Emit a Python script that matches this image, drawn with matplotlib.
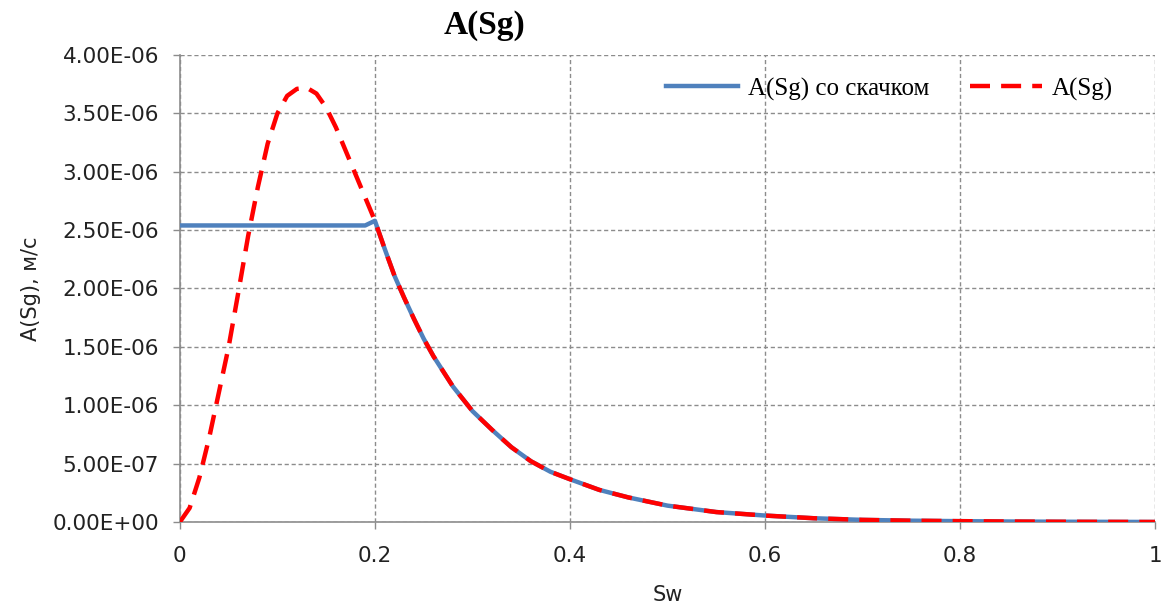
"""A(Sg) curve with and without the saturation jump."""

import matplotlib
matplotlib.use("Agg")
import matplotlib.pyplot as plt
from matplotlib.ticker import FuncFormatter

# A(Sg), in units of 1e-6 m/s
sw = [0.0, 0.01, 0.015, 0.02, 0.03, 0.04, 0.05, 0.06, 0.07, 0.08, 0.09, 0.10,
      0.11, 0.12, 0.13, 0.14, 0.15, 0.16, 0.17, 0.18, 0.19, 0.20, 0.21, 0.22,
      0.23, 0.24, 0.25, 0.26, 0.28, 0.30, 0.32, 0.34, 0.36, 0.38, 0.40, 0.43,
      0.46, 0.50, 0.55, 0.60, 0.65, 0.70, 0.75, 0.80, 0.85, 0.90, 0.95, 1.0]
a_sg = [0.0, 0.12, 0.25, 0.38, 0.72, 1.11, 1.50, 1.97, 2.45, 2.87, 3.24, 3.50,
        3.65, 3.71, 3.72, 3.67, 3.55, 3.38, 3.18, 2.98, 2.78, 2.58, 2.34, 2.11,
        1.92, 1.74, 1.57, 1.42, 1.16, 0.95, 0.79, 0.64, 0.52, 0.43, 0.366, 0.275,
        0.21, 0.14, 0.085, 0.055, 0.032, 0.018, 0.011, 0.007, 0.004, 0.002, 0.001, 0.0]

# curve with the jump: flat up to the front, then the same as A(Sg)
sw_jump = [0.0, 0.10, 0.19] + sw[21:]
a_jump = [2.54, 2.54, 2.54] + a_sg[21:]

scale = 1e-6
a_sg = [v * scale for v in a_sg]
a_jump = [v * scale for v in a_jump]

x_ticks = [0, 0.2, 0.4, 0.6, 0.8, 1]
x_tick_labels = ["0", "0.2", "0.4", "0.6", "0.8", "1"]
y_ticks = [i * 0.5e-6 for i in range(9)]

fig = plt.figure(figsize=(11.68, 6.10), dpi=100)
ax = fig.add_axes([0.154, 0.1443, 0.835, 0.7655])

ax.plot(sw_jump, a_jump, color="#4F81BD", linewidth=3.2,
        solid_joinstyle="round", label="A(Sg) со скачком", zorder=3)
ax.plot(sw, a_sg, color="#FF0000", linewidth=3.2, dashes=(4.5, 2.5),
        label="A(Sg)", zorder=4)

ax.set_xlim(0, 1)
ax.set_ylim(0, 4e-6)
ax.set_xticks(x_ticks)
ax.set_xticklabels(x_tick_labels)
ax.set_yticks(y_ticks)
ax.yaxis.set_major_formatter(FuncFormatter(lambda v, p: f"{v:.2E}"))

ax.grid(True, color="#8c8c8c", linestyle=(0, (3, 2)), linewidth=1.0)
ax.set_axisbelow(True)
for side in ["top", "right"]:
    ax.spines[side].set_visible(False)
for side in ["left", "bottom"]:
    ax.spines[side].set_color("#8c8c8c")
    ax.spines[side].set_linewidth(1.2)
ax.tick_params(axis="both", color="#8c8c8c", length=5, width=1,
               labelsize=15.5, labelcolor="#222222")
ax.tick_params(axis="y", pad=10)
ax.tick_params(axis="x", pad=12)
for lbl in ax.get_xticklabels() + ax.get_yticklabels():
    lbl.set_family("DejaVu Sans")

ax.set_ylabel("A(Sg), м/с", fontsize=15, family="DejaVu Sans", labelpad=8,
              color="#222222")
ax.set_xlabel("Sw", fontsize=15, family="DejaVu Sans", labelpad=14,
              color="#222222")

fig.text(0.415, 0.958, "A(Sg)", fontsize=24, fontweight="bold",
         family="Liberation Serif", ha="center", va="center")

leg = ax.legend(loc="upper right", ncol=2, frameon=False,
                prop={"family": "Liberation Serif", "size": 18},
                handlelength=2.9, handletextpad=0.4, columnspacing=1.6,
                bbox_to_anchor=(0.98, 1.0))

plt.savefig("out.png", dpi=100)
